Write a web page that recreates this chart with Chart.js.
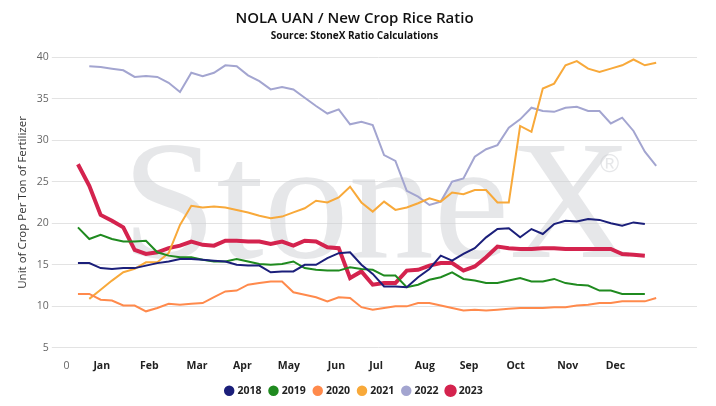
<!DOCTYPE html>
<html>
<head>
<meta charset="utf-8">
<script src="https://cdn.jsdelivr.net/npm/chart.js@4"></script>
<style>
  body { margin: 0; background: #fff; }
  #wrap { width: 716px; height: 406px; }
</style>
</head>
<body>
<div id="wrap"><canvas id="myChart"></canvas></div>
<script>
// weekly values, first value is week 1 (2018-2020, 2023) or week 2 (2021, 2022)
const y2018 = [15.2,15.2,14.6,14.5,14.6,14.6,14.9,15.2,15.4,15.7,15.7,15.6,15.5,15.4,15,14.9,14.9,14.1,14.2,14.2,15,15,15.8,16.4,16.5,15,13.9,12.4,12.4,12.3,13.5,14.5,16.1,15.5,16.3,17,18.3,19.3,19.4,18.3,19.3,18.7,19.9,20.3,20.2,20.5,20.4,20,19.7,20.1,19.9];
const y2019 = [19.5,18.1,18.6,18.1,17.8,17.8,17.9,16.5,16.1,15.9,15.9,15.6,15.4,15.4,15.7,15.4,15.1,15,15.1,15.4,14.6,14.4,14.3,14.3,14.7,14.5,14.4,13.7,13.7,12.3,12.6,13.2,13.5,14.1,13.3,13.1,12.8,12.8,13.1,13.4,13,13,13.3,12.8,12.6,12.5,11.9,11.9,11.5,11.5,11.5];
const y2020 = [11.5,11.5,10.8,10.7,10.1,10.1,9.4,9.8,10.3,10.2,10.3,10.4,11.1,11.8,11.9,12.6,12.8,13,13,11.7,11.4,11.1,10.6,11.1,11,9.9,9.6,9.8,10,10,10.4,10.4,10.1,9.8,9.5,9.6,9.5,9.6,9.7,9.8,9.8,9.8,9.9,9.9,10.1,10.2,10.4,10.4,10.6,10.6,10.6,11];
const y2021 = [10.9,12,13.1,14.1,14.5,15.3,15.3,16.4,19.8,22.1,21.9,22,21.9,21.6,21.3,20.9,20.6,20.8,21.3,21.8,22.7,22.5,23.1,24.4,22.5,21.4,22.6,21.6,21.9,22.4,23,22.6,23.7,23.5,24,24,22.5,22.5,31.7,31,36.2,36.8,39,39.5,38.6,38.2,38.6,39,39.7,39,39.3];
const y2022 = [38.9,38.8,38.6,38.4,37.6,37.7,37.6,36.9,35.8,38.1,37.7,38.1,39,38.9,37.8,37.1,36.1,36.4,36.1,35.1,34.1,33.2,33.7,31.9,32.2,31.8,28.2,27.5,23.9,23.2,22.2,22.6,25,25.4,28,28.9,29.4,31.5,32.5,33.9,33.5,33.4,33.9,34,33.5,33.5,32,32.7,31.1,28.6,26.9];
const y2023 = [27.1,24.5,21,20.3,19.5,16.8,16.3,16.5,17,17.3,17.8,17.4,17.3,17.9,17.9,17.8,17.8,17.5,17.8,17.3,17.9,17.8,17.1,17,13.4,14.2,12.6,12.8,12.8,14.3,14.4,14.9,15.2,15.2,14.3,14.8,15.9,17.2,17,16.9,16.9,17,17,16.9,16.9,16.9,16.9,16.9,16.3,16.2,16.1];

const tickLabels = ["0","Jan","Feb","Mar","Apr","May","Jun","Jul","Aug","Sep","Oct","Nov","Dec"];
const tickWeeks = [0,3.1,7.3,11.5,15.5,19.6,23.8,27.3,31.6,35.5,39.6,44.2,48.4];

function toPoints(vals, startWeek) {
  return vals.map((v, i) => ({ x: startWeek + i, y: v }));
}

const watermark = {
  id: "watermark",
  beforeDatasetsDraw(chart) {
    const c = chart.ctx;
    c.save();
    c.fillStyle = "rgba(205,207,211,0.5)";
    c.font = "170px 'Liberation Serif', 'DejaVu Serif', serif";
    c.textBaseline = "alphabetic";
    c.fillText("StoneX", 122, 257);
    c.font = "26px 'Liberation Sans', sans-serif";
    c.fillText("®", 600, 172);
    c.restore();
  }
};

function ds(label, data, color, width) {
  return {
    label: label, data: data, borderColor: color, backgroundColor: color,
    borderWidth: width, pointRadius: 0, tension: 0
  };
}

new Chart(document.getElementById("myChart").getContext("2d"), {
  type: "line",
  data: {
    datasets: [
      ds("2018", toPoints(y2018, 1), "#1b1f7a", 2),
      ds("2019", toPoints(y2019, 1), "#1f8a1f", 2),
      ds("2020", toPoints(y2020, 1), "#ff8a4c", 2),
      ds("2021", toPoints(y2021, 2), "#f8a93a", 2),
      ds("2022", toPoints(y2022, 2), "#a3a5d0", 2),
      ds("2023", toPoints(y2023, 1), "#d4234e", 4)
    ]
  },
  options: {
    responsive: true,
    maintainAspectRatio: false,
    animation: false,
    layout: { padding: { left: 12, right: 19, top: 4, bottom: 0 } },
    plugins: {
      title: {
        display: true, text: "NOLA UAN / New Crop Rice Ratio", color: "#111",
        font: { family: "'Open Sans', sans-serif", size: 15, weight: "600" },
        padding: { top: 6, bottom: 2 }
      },
      subtitle: {
        display: true, text: "Source: StoneX Ratio Calculations", color: "#111",
        font: { family: "'Open Sans', sans-serif", size: 10, weight: "bold" },
        padding: { bottom: 15 }
      },
      legend: {
        position: "bottom",
        labels: {
          usePointStyle: true, pointStyle: "circle", boxWidth: 6, boxHeight: 6,
          color: "#222", padding: 9,
          font: { family: "'Open Sans', sans-serif", size: 10.5, weight: "bold" }
        }
      },
      tooltip: { enabled: false }
    },
    scales: {
      x: {
        type: "linear", min: -0.6, max: 55.6,
        grid: { display: false },
        border: { display: false },
        afterBuildTicks(axis) {
          axis.ticks = tickWeeks.map(v => ({ value: v }));
        },
        ticks: {
          autoSkip: false, maxRotation: 0, padding: 4,
          callback(v) { return tickLabels[tickWeeks.indexOf(v)]; },
          color: c => c.index === 0 ? "#666" : "#222",
          font: c => ({ family: "'Open Sans', sans-serif", size: 10.5, weight: c.index === 0 ? "normal" : "bold" })
        }
      },
      y: {
        min: 5, max: 40,
        ticks: { stepSize: 5, color: "#666", font: { family: "'Open Sans', sans-serif", size: 10.5 } },
        grid: { color: "#e3e3e3" },
        border: { display: false },
        title: {
          display: true, text: "Unit of Crop Per Ton of Fertilizer", color: "#333",
          font: { family: "'Open Sans', sans-serif", size: 11.5 }
        }
      }
    }
  },
  plugins: [watermark]
});
</script>
</body>
</html>
